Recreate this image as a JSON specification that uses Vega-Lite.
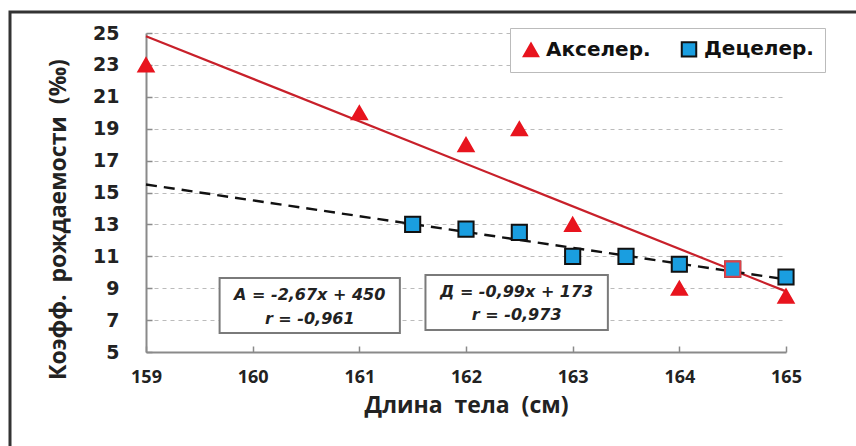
{
  "$schema": "https://vega.github.io/schema/vega-lite/v6.json",
  "width": 640,
  "height": 319,
  "autosize": {"type": "none"},
  "padding": {"left": 146, "top": 33, "right": 70, "bottom": 94},
  "background": "white",
  "datasets": {
    "points": [
      {"x": 159, "y": 23, "series": "Акселер."},
      {"x": 161, "y": 20, "series": "Акселер."},
      {"x": 162, "y": 18, "series": "Акселер."},
      {"x": 162.5, "y": 19, "series": "Акселер."},
      {"x": 163, "y": 13, "series": "Акселер."},
      {"x": 164, "y": 9, "series": "Акселер."},
      {"x": 165, "y": 8.5, "series": "Акселер."},
      {"x": 161.5, "y": 13, "series": "Децелер."},
      {"x": 162, "y": 12.7, "series": "Децелер."},
      {"x": 162.5, "y": 12.5, "series": "Децелер."},
      {"x": 163, "y": 11, "series": "Децелер."},
      {"x": 163.5, "y": 11, "series": "Децелер."},
      {"x": 164, "y": 10.5, "series": "Децелер."},
      {"x": 164.5, "y": 10.2, "series": "Децелер."},
      {"x": 165, "y": 9.7, "series": "Децелер."}
    ],
    "trends": [
      {"x": 159, "y": 24.8, "series": "Акселер."},
      {"x": 165, "y": 8.8, "series": "Акселер."},
      {"x": 159, "y": 15.5, "series": "Децелер."},
      {"x": 165, "y": 9.55, "series": "Децелер."}
    ],
    "boxes": [
      {"x1": 159.69, "x2": 161.38, "y1": 9.64, "y2": 6.19, "line1": "А = -2,67x + 450", "line2": "r = -0,961", "xm": 160.535, "ya": 8.55, "yb": 7.1},
      {"x1": 161.62, "x2": 163.33, "y1": 9.83, "y2": 6.38, "line1": "Д = -0,99x + 173", "line2": "r = -0,973", "xm": 162.475, "ya": 8.74, "yb": 7.29}
    ],
    "frame": [
      {"x1": 157.725, "x2": 175, "y1": 26.32, "y2": -3}
    ]
  },
  "layer": [
    {
      "data": {"name": "frame"},
      "mark": {"type": "rect", "fill": null, "stroke": "#333333", "strokeWidth": 3},
      "encoding": {
        "x": {
          "field": "x1", "type": "quantitative",
          "scale": {"domain": [159, 165], "nice": false, "zero": false},
          "axis": {
            "values": [159, 160, 161, 162, 163, 164, 165],
            "tickCount": 20,
            "format": "d",
            "title": "Длина\u00a0\u00a0тела\u00a0\u00a0(см)"
          }
        },
        "x2": {"field": "x2"},
        "y": {
          "field": "y1", "type": "quantitative",
          "scale": {"domain": [5, 25], "nice": false, "zero": false},
          "axis": {
            "values": [5, 7, 9, 11, 13, 15, 17, 19, 21, 23, 25],
            "tickCount": 20,
            "title": "Коэфф.\u00a0\u00a0рождаемости\u00a0\u00a0(‰)"
          }
        },
        "y2": {"field": "y2"}
      }
    },
    {
      "data": {"name": "boxes"},
      "mark": {"type": "rect", "fill": "white", "stroke": "#7a7a7a", "strokeWidth": 2},
      "encoding": {
        "x": {"field": "x1", "type": "quantitative"},
        "x2": {"field": "x2"},
        "y": {"field": "y1", "type": "quantitative"},
        "y2": {"field": "y2"}
      }
    },
    {
      "data": {"name": "boxes"},
      "mark": {"type": "text", "font": "DejaVu Sans", "fontWeight": "bold", "fontStyle": "italic", "fontSize": 16, "color": "#222"},
      "encoding": {
        "x": {"field": "xm", "type": "quantitative"},
        "y": {"field": "ya", "type": "quantitative"},
        "text": {"field": "line1"}
      }
    },
    {
      "data": {"name": "boxes"},
      "mark": {"type": "text", "font": "DejaVu Sans", "fontWeight": "bold", "fontStyle": "italic", "fontSize": 16, "color": "#222"},
      "encoding": {
        "x": {"field": "xm", "type": "quantitative"},
        "y": {"field": "yb", "type": "quantitative"},
        "text": {"field": "line2"}
      }
    },
    {
      "data": {"name": "trends"},
      "transform": [{"filter": "datum.series === 'Акселер.'"}],
      "mark": {"type": "line", "strokeWidth": 2.2, "color": "#c8202a"},
      "encoding": {
        "x": {"field": "x", "type": "quantitative"},
        "y": {"field": "y", "type": "quantitative"}
      }
    },
    {
      "data": {"name": "trends"},
      "transform": [{"filter": "datum.series === 'Децелер.'"}],
      "mark": {"type": "line", "strokeWidth": 2.4, "color": "#111111", "strokeDash": [11, 7]},
      "encoding": {
        "x": {"field": "x", "type": "quantitative"},
        "y": {"field": "y", "type": "quantitative"}
      }
    },
    {
      "data": {"name": "points"},
      "mark": {"type": "point", "filled": true, "size": 230, "opacity": 1, "strokeWidth": 2},
      "encoding": {
        "x": {"field": "x", "type": "quantitative"},
        "y": {"field": "y", "type": "quantitative"},
        "shape": {
          "field": "series", "type": "nominal",
          "scale": {"domain": ["Акселер.", "Децелер."], "range": ["triangle-up", "square"]},
          "legend": {"title": null}
        },
        "fill": {"field": "series", "type": "nominal", "scale": {"domain": ["Акселер.", "Децелер."], "range": ["#e8141e", "#1a9ee0"]}, "legend": {"title": null}},
        "stroke": {"field": "series", "type": "nominal", "scale": {"domain": ["Акселер.", "Децелер."], "range": ["#e8141e", "#111111"]}, "legend": {"title": null}}
      }
    },
    {
      "data": {"name": "points"},
      "transform": [{"filter": "datum.x === 164.5 && datum.series === 'Децелер.'"}],
      "mark": {"type": "point", "shape": "square", "filled": true, "size": 230, "opacity": 1, "strokeWidth": 2, "fill": "#1a9ee0", "stroke": "#e04048"},
      "encoding": {
        "x": {"field": "x", "type": "quantitative"},
        "y": {"field": "y", "type": "quantitative"}
      }
    }
  ],
  "config": {
    "view": {"stroke": null},
    "axis": {
      "gridColor": "#bbbbbb",
      "gridDash": [4, 4],
      "gridWidth": 1.2,
      "domainColor": "#8a8a8a",
      "domainWidth": 2,
      "tickColor": "#8a8a8a",
      "tickWidth": 1.5,
      "tickSize": -6,
      "labelColor": "#222",
      "titleColor": "#222",
      "labelOverlap": false,
      "labelFlush": false
    },
    "axisX": {
      "grid": false,
      "labelFont": "Open Sans", "labelFontWeight": "bold", "labelFontSize": 18,
      "labelPadding": 22,
      "titleFont": "Open Sans", "titleFontWeight": "bold", "titleFontSize": 23,
      "titlePadding": 8
    },
    "axisY": {
      "grid": true,
      "labelFont": "DejaVu Sans", "labelFontWeight": "bold", "labelFontSize": 19,
      "labelPadding": 33,
      "titleFont": "Open Sans", "titleFontWeight": "bold", "titleFontSize": 23,
      "titleX": -88,
      "titleY": 186,
      "titleBaseline": "middle"
    },
    "legend": {
      "orient": "none",
      "legendX": 364,
      "legendY": -5,
      "direction": "horizontal",
      "strokeColor": "#bbbbbb",
      "fillColor": "white",
      "padding": 11,
      "labelFont": "DejaVu Sans",
      "labelFontWeight": "bold",
      "labelFontSize": 20,
      "labelColor": "#111",
      "symbolSize": 210,
      "symbolStrokeWidth": 2,
      "columnPadding": 26,
      "labelOffset": 5
    }
  }
}
